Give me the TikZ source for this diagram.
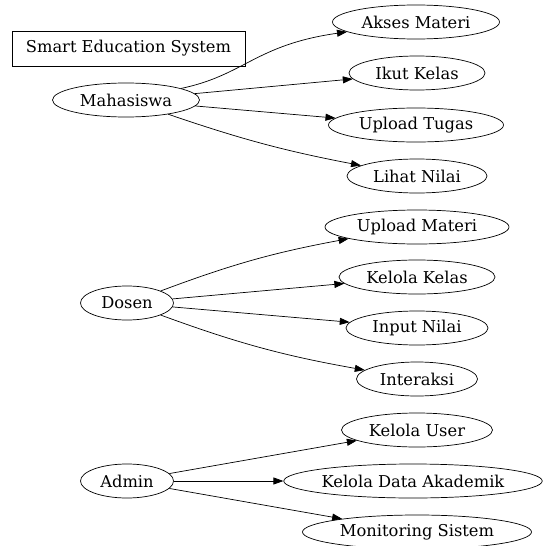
\documentclass[tikz,border=0pt]{standalone}
\usepackage{fontspec}
\setmainfont{DejaVu Serif}
\usetikzlibrary{shapes.geometric,arrows.meta}
\begin{document}
\begin{tikzpicture}[x=1pt,y=-1pt,
  oval/.style={ellipse,draw,line width=0.7pt,inner sep=0pt,minimum height=34pt,font=\fontsize{16.3}{18}\selectfont},
  titlebox/.style={rectangle,draw,line width=0.7pt,inner sep=0pt,minimum width=233pt,minimum height=35pt,font=\fontsize{16.3}{18}\selectfont},
  edge/.style={draw,line width=0.7pt,-{Triangle[length=10pt,width=7pt]}}]
\useasboundingbox (0,0) rectangle (542,546);
\fill[white] (0,0) rectangle (542,546);
\node[titlebox] (title) at (128.5,48.5) {Smart Education System};
\node[oval,minimum width=147pt] (mhs) at (126,100) {Mahasiswa};
\node[oval,minimum width=167pt] (akses) at (416,22) {Akses Materi};
\node[oval,minimum width=136pt] (ikut) at (417,73) {Ikut Kelas};
\node[oval,minimum width=175pt] (uptugas) at (416,125) {Upload Tugas};
\node[oval,minimum width=140pt] (lihat) at (417,176) {Lihat Nilai};
\node[oval,minimum width=93pt] (dosen) at (127,303) {Dosen};
\node[oval,minimum width=184pt] (upmateri) at (417,227) {Upload Materi};
\node[oval,minimum width=156pt] (kkelas) at (417,277) {Kelola Kelas};
\node[oval,minimum width=142pt] (input) at (417,328) {Input Nilai};
\node[oval,minimum width=121pt] (inter) at (417,379) {Interaksi};
\node[oval,minimum width=93pt] (admin) at (127,481) {Admin};
\node[oval,minimum width=151pt] (kuser) at (417,430) {Kelola User};
\node[oval,minimum width=256pt] (kdata) at (413,481) {Kelola Data Akademik};
\node[oval,minimum width=229pt] (monit) at (417,532) {Monitoring Sistem};
\draw[edge] (mhs) .. controls (245,75) and (255,45) .. (akses);
\draw[edge] (mhs) -- (ikut);
\draw[edge] (mhs) -- (uptugas);
\draw[edge] (mhs) to[bend right=4] (lihat);
\draw[edge] (dosen) to[bend left=5] (upmateri);
\draw[edge] (dosen) -- (kkelas);
\draw[edge] (dosen) -- (input);
\draw[edge] (dosen) to[bend right=5] (inter);
\draw[edge] (admin) -- (kuser);
\draw[edge] (admin) -- (kdata);
\draw[edge] (admin) -- (monit);
\end{tikzpicture}
\end{document}
